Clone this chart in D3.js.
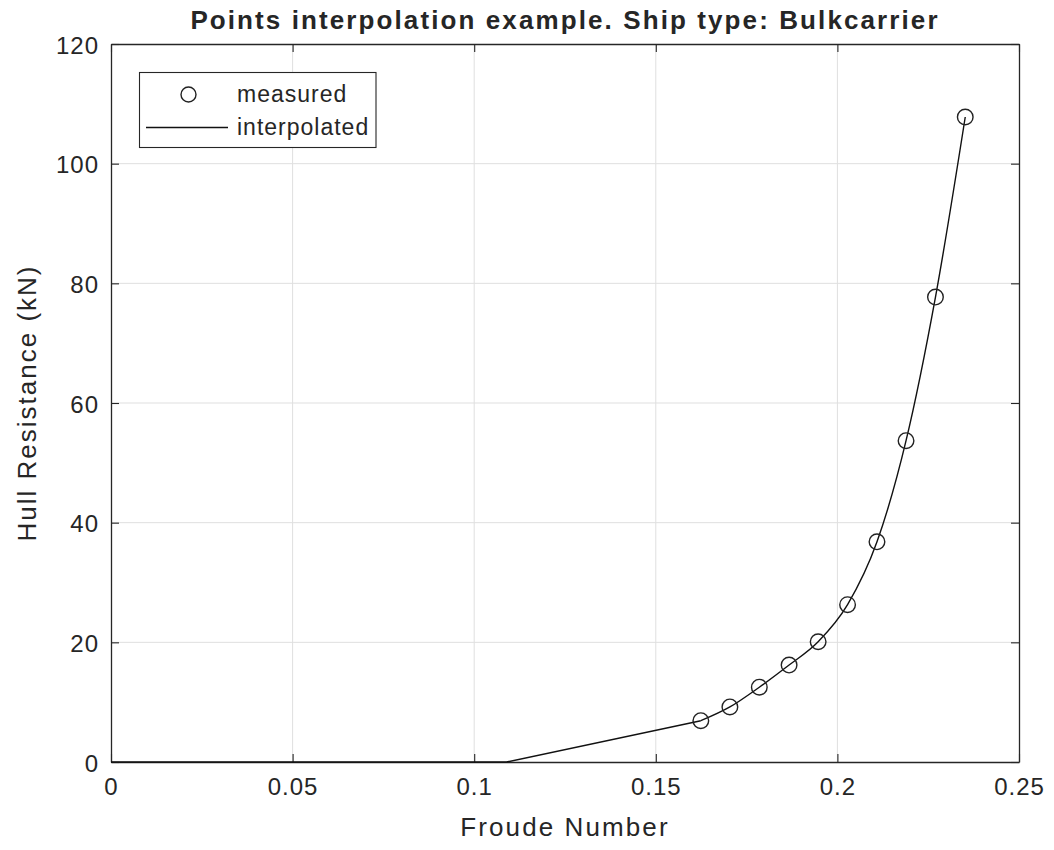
<!DOCTYPE html>
<html>
<head>
<meta charset="utf-8">
<script src="https://cdn.jsdelivr.net/npm/d3@7"></script>
<style>
  html, body { margin: 0; padding: 0; background: #ffffff; }
  svg { display: block; }
  text { font-family: "Liberation Sans", Arial, Helvetica, sans-serif; fill: #262626; }
</style>
</head>
<body>
<svg id="chart" width="1054" height="850"></svg>
<script>
// Measured hull resistance at each Froude number
const froude = [0.1624, 0.1704, 0.1785, 0.1867, 0.1947, 0.2028, 0.2109, 0.2189, 0.2270, 0.2352];
const resistance = [6.9, 9.2, 12.5, 16.2, 20.1, 26.3, 36.8, 53.7, 77.7, 107.8];

// Low-speed part of the interpolated curve (clamped at zero)
const lowFroude = [0, 0.1089];
const lowResistance = [0, 0];

const xTicks = [0, 0.05, 0.1, 0.15, 0.2, 0.25];
const yTicks = [0, 20, 40, 60, 80, 100, 120];

const titleText = "Points interpolation example. Ship type: Bulkcarrier";
const xLabel = "Froude Number";
const yLabel = "Hull Resistance (kN)";
const legendLabels = ["measured", "interpolated"];

const W = 1054, H = 850;
const m = { left: 111, right: 1019, top: 44, bottom: 762 };
const ink = "#262626";

const svg = d3.select("#chart");

const x = d3.scaleLinear().domain([0, 0.25]).range([m.left, m.right]);
const y = d3.scaleLinear().domain([0, 120]).range([m.bottom, m.top]);

// grid
const grid = svg.append("g");
grid.selectAll("line.gx").data(xTicks.slice(1, -1)).join("line")
  .attr("x1", d => x(d)).attr("x2", d => x(d))
  .attr("y1", m.top).attr("y2", m.bottom)
  .attr("stroke", "#dfdfdf").attr("stroke-width", 1);
grid.selectAll("line.gy").data(yTicks.slice(1, -1)).join("line")
  .attr("y1", d => y(d)).attr("y2", d => y(d))
  .attr("x1", m.left).attr("x2", m.right)
  .attr("stroke", "#dfdfdf").attr("stroke-width", 1);

// axes with inward ticks on all four sides
const tickLen = 8;
const fmtX = d => d === 0 ? "0" : String(d);
const axB = d3.axisBottom(x).tickValues(xTicks).tickFormat(fmtX).tickSizeInner(-tickLen).tickSizeOuter(0).tickPadding(16);
const axT = d3.axisTop(x).tickValues(xTicks).tickFormat("").tickSizeInner(-tickLen).tickSizeOuter(0);
const axL = d3.axisLeft(y).tickValues(yTicks).tickSizeInner(-tickLen).tickSizeOuter(0).tickPadding(12);
const axR = d3.axisRight(y).tickValues(yTicks).tickFormat("").tickSizeInner(-tickLen).tickSizeOuter(0);

function styleAxis(g) {
  g.selectAll("path.domain").attr("stroke", ink).attr("stroke-width", 1.3);
  g.selectAll(".tick line").attr("stroke", ink).attr("stroke-width", 1.1);
  g.selectAll(".tick text").attr("fill", ink).style("font-size", "24px")
    .style("letter-spacing", "1px")
    .style("font-family", "'Liberation Sans', Arial, sans-serif");
}

svg.append("g").attr("transform", `translate(0,${m.bottom})`).call(axB).call(styleAxis)
  .selectAll(".tick text").attr("dy", "0.71em");
svg.append("g").attr("transform", `translate(0,${m.top})`).call(axT).call(styleAxis);
svg.append("g").attr("transform", `translate(${m.left},0)`).call(axL).call(styleAxis)
  .selectAll(".tick text").attr("dy", "0.38em");
svg.append("g").attr("transform", `translate(${m.right},0)`).call(axR).call(styleAxis);

// interpolated curve: linear low-speed part, smooth through the measured points
const lowPts = lowFroude.map((f, i) => [f, lowResistance[i]]).concat([[froude[0], resistance[0]]]);
const measPts = froude.map((f, i) => [f, resistance[i]]);

const linLine = d3.line().x(d => x(d[0])).y(d => y(d[1]));
const smoothLine = d3.line().x(d => x(d[0])).y(d => y(d[1])).curve(d3.curveMonotoneX);

svg.append("path").attr("d", linLine(lowPts))
  .attr("fill", "none").attr("stroke", "#111").attr("stroke-width", 1.4);
svg.append("path").attr("d", smoothLine(measPts))
  .attr("fill", "none").attr("stroke", "#111").attr("stroke-width", 1.4);

// measured markers
svg.append("g").selectAll("circle").data(measPts).join("circle")
  .attr("cx", d => x(d[0])).attr("cy", d => y(d[1])).attr("r", 7.8)
  .attr("fill", "none").attr("stroke", "#222").attr("stroke-width", 1.4);

// title and axis labels
svg.append("text").attr("x", (m.left + m.right) / 2).attr("y", 29)
  .attr("text-anchor", "middle").style("font-size", "26px").style("font-weight", "bold")
  .style("letter-spacing", "2.1px")
  .attr("fill", "#000").text(titleText);

svg.append("text").attr("x", (m.left + m.right) / 2).attr("y", 836)
  .attr("text-anchor", "middle").style("font-size", "26px").style("letter-spacing", "2.1px")
  .text(xLabel);

svg.append("text").attr("transform", `translate(36,${(m.top + m.bottom) / 2}) rotate(-90)`)
  .attr("text-anchor", "middle").style("font-size", "26px").style("letter-spacing", "2px")
  .text(yLabel);

// legend
const lg = svg.append("g");
lg.append("rect").attr("x", 139.5).attr("y", 72.5).attr("width", 236.5).attr("height", 75)
  .attr("fill", "#fff").attr("stroke", ink).attr("stroke-width", 1.1);
lg.append("circle").attr("cx", 188.5).attr("cy", 94.5).attr("r", 7.5)
  .attr("fill", "none").attr("stroke", "#222").attr("stroke-width", 1.4);
lg.append("line").attr("x1", 146).attr("x2", 228).attr("y1", 127.5).attr("y2", 127.5)
  .attr("stroke", "#111").attr("stroke-width", 1.4);
lg.selectAll("text.lab").data(legendLabels).join("text")
  .attr("x", 237).attr("y", (d, i) => 94 + i * 33).attr("dy", "0.35em")
  .style("font-size", "23px").style("letter-spacing", "1px").text(d => d);
</script>
</body>
</html>
